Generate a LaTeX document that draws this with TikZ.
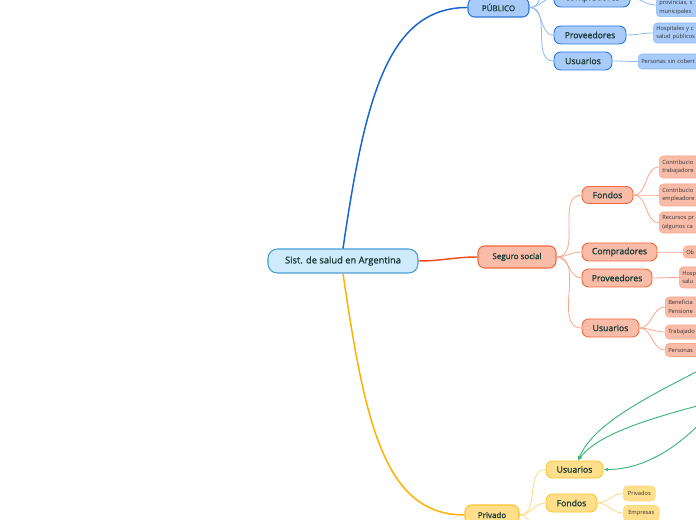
\documentclass[tikz,border=0pt]{standalone}
\usepackage{fontspec}
\setmainfont{Open Sans}
\newfontfamily\temafont{Open Sans}[FakeBold=1.2]
\usepackage{xcolor}
\definecolor{raizFill}{HTML}{CFEAFB}
\definecolor{raizLine}{HTML}{4A9ED8}
\definecolor{pubFill}{HTML}{A8CBFA}
\definecolor{pubLine}{HTML}{2B78E0}
\definecolor{pubRama}{HTML}{1663D6}
\definecolor{pubSub}{HTML}{8EB9F3}
\definecolor{segFill}{HTML}{F8BCA8}
\definecolor{segLine}{HTML}{F26A3C}
\definecolor{segRama}{HTML}{EE4E22}
\definecolor{segSub}{HTML}{F9A68B}
\definecolor{priFill}{HTML}{FFDF8C}
\definecolor{priLine}{HTML}{FFC42E}
\definecolor{priRama}{HTML}{FFB000}
\definecolor{priSub}{HTML}{FFD97F}
\definecolor{verdeFlecha}{HTML}{3DB57B}
\definecolor{txtTema}{HTML}{1B3B36}
\definecolor{txtHoja}{HTML}{333333}
\usepackage{tikz}
\usetikzlibrary{arrows.meta}

\tikzset{
  medida/.style 2 args={minimum width=#1*0.75pt, minimum height=#2*0.75pt},
  tema/.style={draw, rounded corners=5pt, inner sep=0pt, text=txtTema},
  raiz/.style={tema, fill=raizFill, draw=raizLine, line width=0.8pt,
    rounded corners=7pt, font=\temafont\fontsize{7}{8}\selectfont},
  rama/.style={tema, line width=0.8pt, font=\temafont\fontsize{6}{7}\selectfont},
  sub/.style={tema, line width=0.7pt, font=\temafont\fontsize{6.5}{7.5}\selectfont},
  hoja/.style={draw, rounded corners=3pt, anchor=west, inner xsep=2.2pt,
    inner ysep=0pt, line width=0.5pt, text=txtHoja,
    font=\fontsize{4.3}{6.7}\selectfont},
  corte/.style={hoja, align=left, text width=70pt},
  pub/.style={fill=pubFill, draw=pubLine},
  pubH/.style={fill=pubFill, draw=pubSub},
  seg/.style={fill=segFill, draw=segLine},
  segH/.style={fill=segFill, draw=segSub},
  pri/.style={fill=priFill, draw=priLine},
  priH/.style={fill=priFill, draw=priSub},
  conPub/.style={draw=pubSub, line width=0.6pt},
  conSeg/.style={draw=segSub, line width=0.6pt},
  conPri/.style={draw=priSub, line width=0.6pt},
  flecha/.style={draw=verdeFlecha, line width=0.7pt,
    -{Latex[length=3.5pt,width=3pt]}},
}

\begin{document}
\begin{tikzpicture}[x=0.75pt,y=-0.75pt]
  \useasboundingbox (0,0) rectangle (696,520);
  \fill[white] (0,0) rectangle (696,520);
  \clip (0,0) rectangle (696,520);

  % centro
  \node[raiz, medida={150}{24}] (raiz) at (343,261) {Sist. de salud en Argentina};

  % rama publica
  \node[rama, pub, medida={61}{19}] (pub) at (498.5,7.5) {PÚBLICO};
  \node[sub, pub, medida={76}{18}] (pubComp) at (592,-2) {Compradores};
  \node[sub, pub, medida={72}{18}] (pubProv) at (590,35) {Proveedores};
  \node[sub, pub, medida={58}{18}] (pubUsu) at (583,61) {Usuarios};
  \coordinate (pubFondos) at (554,-40);
  \node[corte, pubH, anchor=south west, inner ysep=1.5pt] (pubCompH) at (656,17)
    {\mbox{}\\provincias, s\\municipales};
  \node[corte, pubH, minimum height=20*0.75pt] (pubProvH) at (653,33)
    {Hospitales y c\\salud públicos};
  \node[corte, pubH, minimum height=15*0.75pt] (pubUsuH) at (638,61.5)
    {Personas sin cobert};

  % rama seguro social
  \node[rama, seg, medida={78}{22}] (seg) at (517,257) {Seguro social};
  \node[sub, seg, medida={51}{17}] (segFondos) at (607.5,195) {Fondos};
  \node[sub, seg, medida={75}{18}] (segComp) at (619.5,252) {Compradores};
  \node[sub, seg, medida={70}{18}] (segProv) at (617,278) {Proveedores};
  \node[sub, seg, medida={57}{18}] (segUsu) at (610.5,328) {Usuarios};
  \node[corte, segH, minimum height=22*0.75pt] (segF1) at (659,167) {Contribucio\\trabajadore};
  \node[corte, segH, minimum height=22*0.75pt] (segF2) at (659,195) {Contribucio\\empleadore};
  \node[corte, segH, minimum height=21*0.75pt] (segF3) at (659,222.5) {Recursos pr\\(algunos ca};
  \node[corte, segH, minimum height=12*0.75pt] (segC1) at (683,252) {Ob};
  \node[corte, segH, minimum height=21*0.75pt] (segP1) at (679,277.5) {Hosp\\salu};
  \node[corte, segH, minimum height=20*0.75pt] (segU1) at (665,307) {Beneficia\\Pensione};
  \node[corte, segH, minimum height=14*0.75pt] (segU2) at (665,332) {Trabajado};
  \node[corte, segH, minimum height=13*0.75pt] (segU3) at (665,350) {Personas};

  % rama privada
  \node[rama, pri, medida={54}{20}] (pri) at (492,515) {Privado};
  \node[sub, pri, medida={57}{17}] (priUsu) at (574.5,469.5) {Usuarios};
  \node[sub, pri, medida={51}{18}] (priFondos) at (571.5,503) {Fondos};
  \coordinate (priMas) at (546,540);
  \node[hoja, priH, medida={32}{15}] (priF1) at (623,493.5) {Privados};
  \node[hoja, priH, medida={36}{15}] (priF2) at (623,513) {Empresas};

  % ramas principales
  \draw[pubRama, line width=1.1pt] (raiz.north) .. controls +(22,-150) and +(-80,0) .. (pub.west);
  \draw[segRama, line width=1.1pt] (raiz.east) to[out=0,in=180] (seg.west);
  \draw[priRama, line width=1.1pt] (raiz.south) .. controls +(22,150) and +(-80,0) .. (pri.west);

  % conectores
  \foreach \h in {pubFondos,pubComp,pubProv,pubUsu}
    \draw[conPub] (pub.east) to[out=0,in=180] (\h.west);
  \draw[conPub] (pubComp.east) to[out=0,in=180] (pubCompH.west);
  \draw[conPub] (pubProv.east) to[out=0,in=180] (pubProvH.west);
  \draw[conPub] (pubUsu.east) to[out=0,in=180] (pubUsuH.west);

  \foreach \h in {segFondos,segComp,segProv,segUsu}
    \draw[conSeg] (seg.east) to[out=0,in=180] (\h.west);
  \foreach \h in {segF1,segF2,segF3}
    \draw[conSeg] (segFondos.east) to[out=0,in=180] (\h.west);
  \draw[conSeg] (segComp.east) to[out=0,in=180] (segC1.west);
  \draw[conSeg] (segProv.east) to[out=0,in=180] (segP1.west);
  \foreach \h in {segU1,segU2,segU3}
    \draw[conSeg] (segUsu.east) to[out=0,in=180] (\h.west);

  \draw[conPri] (pri.east) to[out=0,in=180] (priUsu.west);
  \draw[conPri] (pri.east) to[out=0,in=180] (priFondos.west);
  \draw[conPri] (pri.east) to[out=0,in=180] (priMas);
  \foreach \h in {priF1,priF2}
    \draw[conPri] (priFondos.east) to[out=0,in=180] (\h.west);

  % flechas verdes
  \coordinate (verde1) at (740,350);
  \coordinate (verde2) at (740,395);
  \coordinate (verde3) at (720,400);
  \draw[flecha] (verde1) .. controls +(-90,45) and +(17,-39) .. ([xshift=2.6pt]priUsu.north);
  \draw[flecha] (verde2) .. controls +(-80,20) and +(22,-29) .. ([xshift=2.6pt]priUsu.north);
  \draw[flecha] (verde3) .. controls +(-30,40) and +(46,0) .. (priUsu.east);
\end{tikzpicture}
\end{document}
